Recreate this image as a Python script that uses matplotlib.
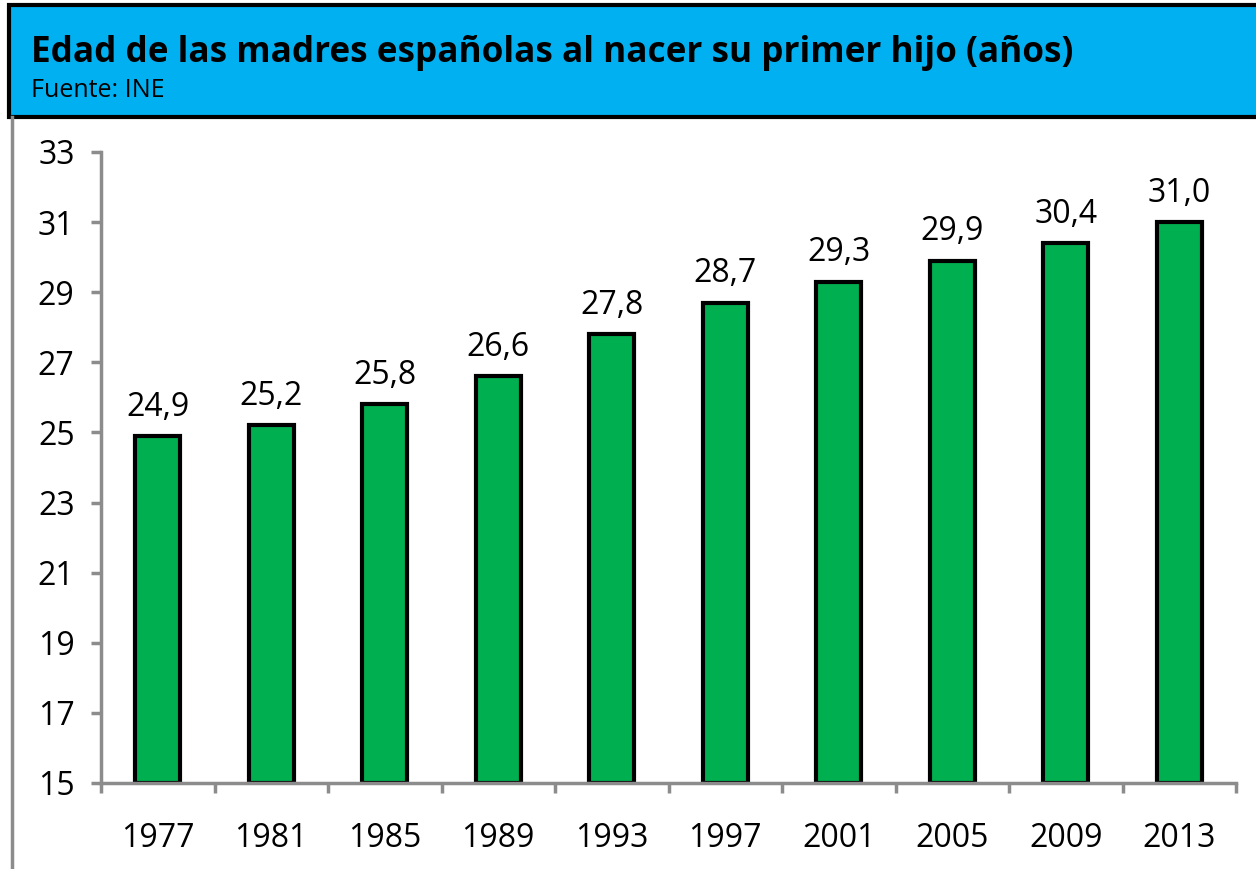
import numpy as np
import matplotlib
matplotlib.use('Agg')
from matplotlib import pyplot as plt
from matplotlib.patches import Rectangle
from matplotlib.lines import Line2D

# datos
anios = ['1977', '1981', '1985', '1989', '1993', '1997', '2001', '2005', '2009', '2013']
edad = [24.9, 25.2, 25.8, 26.6, 27.8, 28.7, 29.3, 29.9, 30.4, 31.0]
y_ticks = [15, 17, 19, 21, 23, 25, 27, 29, 31, 33]

titulo = 'Edad de las madres españolas al nacer su primer hijo (años)'
fuente = 'Fuente: INE'

plt.rcParams['font.family'] = ['Open Sans', 'DejaVu Sans']
gris = '#8c8c8c'

fig = plt.figure(figsize=(12.56, 8.69), dpi=100)

# banda del titulo
W, H = 1256, 869
fig.patches.append(Rectangle((9 / W, 1 - 117 / H), 1.0, 112 / H, transform=fig.transFigure,
                             facecolor='#00B0F0', edgecolor='black', linewidth=3, zorder=0))
fig.lines.append(Line2D([12 / W, 12 / W], [0, 1 - 117 / H], transform=fig.transFigure,
                        color=gris, linewidth=2.5))
fig.text(31 / W, 1 - 62 / H, titulo, fontsize=25.3, fontweight='bold', va='baseline', ha='left')
fig.text(31 / W, 1 - 97 / H, fuente, fontsize=18, va='baseline', ha='left')

ax = fig.add_axes([101 / W, 1 - 783 / H, (1236 - 101) / W, (783 - 152) / H])
x = np.arange(len(anios))
bars = ax.bar(x, [v - 15 for v in edad], bottom=15, width=0.4, color='#00B050',
              edgecolor='black', linewidth=3)
for xi, v in zip(x, edad):
    ax.text(xi, v + 0.35, ('%.1f' % v).replace('.', ','), ha='center', va='bottom', fontsize=23)

ax.set_ylim(15, 33)
ax.set_xlim(-0.5, len(anios) - 0.5)
ax.set_yticks(y_ticks)
ax.set_xticks(x)
ax.set_xticklabels(anios)
ax.set_xticks(np.arange(-0.5, len(anios)), minor=True)
ax.tick_params(axis='x', which='major', length=0, labelsize=23, pad=28)
ax.tick_params(axis='x', which='minor', length=7, width=2.5, color=gris, direction='out')
ax.tick_params(axis='y', length=7, width=2.5, color=gris, labelsize=23, pad=12)
for s in ['top', 'right']:
    ax.spines[s].set_visible(False)
for s in ['left', 'bottom']:
    ax.spines[s].set_color(gris)
    ax.spines[s].set_linewidth(2.5)

fig.savefig('out.png', dpi=100)
